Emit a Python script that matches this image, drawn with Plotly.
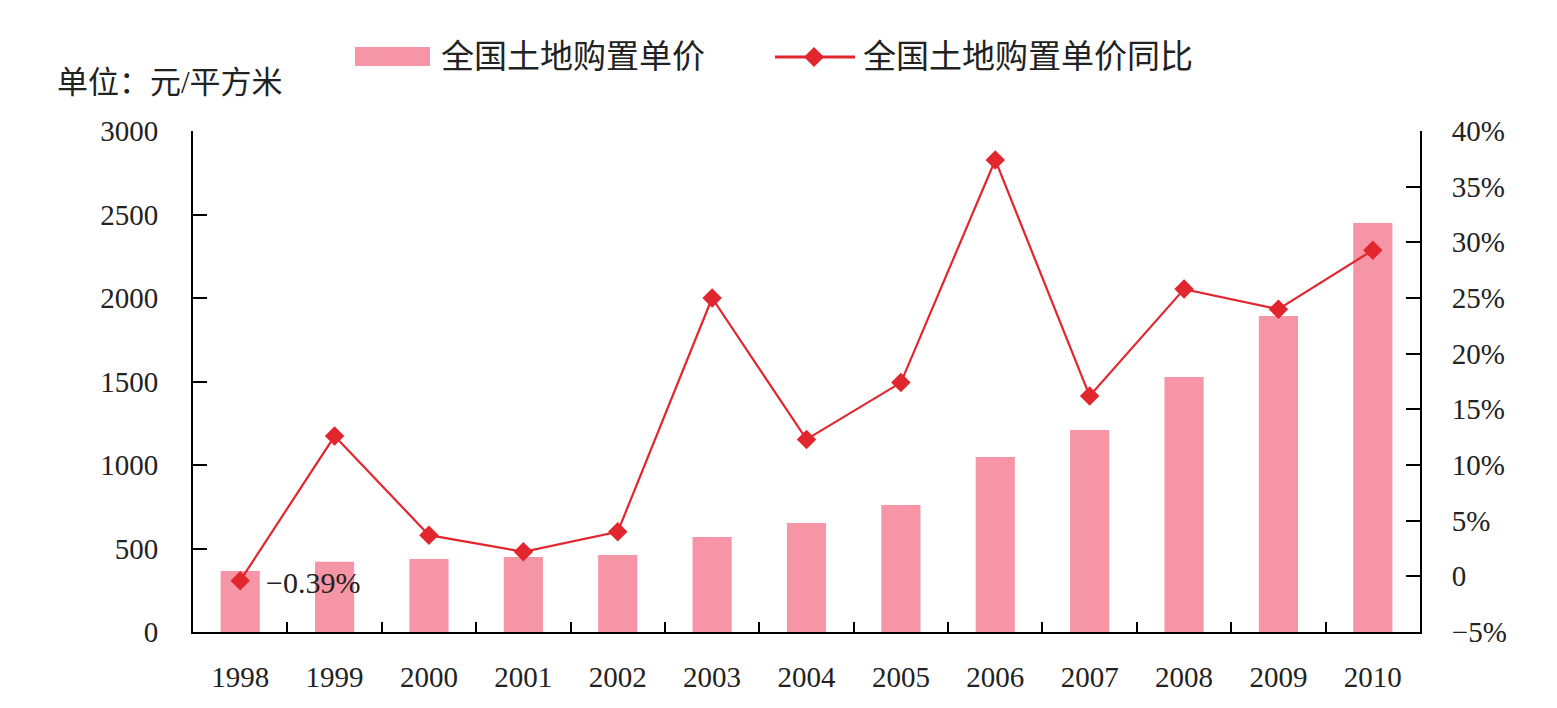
import plotly.graph_objects as go
from plotly.subplots import make_subplots

years = ["1998", "1999", "2000", "2001", "2002", "2003", "2004",
         "2005", "2006", "2007", "2008", "2009", "2010"]
price = [366, 420, 437, 449, 461, 569, 653, 760, 1048, 1210, 1527, 1892, 2449]
yoy = [-0.39, 12.6, 3.7, 2.2, 4.0, 25.0, 12.3, 17.4, 37.4, 16.2, 25.8, 24.0, 29.3]

left_ticks = [0, 500, 1000, 1500, 2000, 2500, 3000]
right_ticks = [-5, 0, 5, 10, 15, 20, 25, 30, 35, 40]
right_text = ["\u22125%", "0", "5%", "10%", "15%", "20%", "25%", "30%", "35%", "40%"]

FONT = "Liberation Serif, Noto Sans CJK SC, serif"
BAR = "#F595A6"
RED = "#E2262E"
TXT = "#222222"

# plot area in pixels
L, R, T, B = 193, 1420, 131, 632
W, H = R - L, B - T


def px(x):
    return (x - L) / W


def py(y):
    return (B - y) / H


fig = make_subplots(specs=[[{"secondary_y": True}]])
fig.add_trace(go.Bar(x=years, y=price, name="全国土地购置单价",
                     marker=dict(color=BAR, line=dict(width=0)),
                     showlegend=False),
              secondary_y=False)
fig.add_trace(go.Scatter(x=years, y=yoy, name="全国土地购置单价同比",
                         mode="lines+markers",
                         line=dict(color=RED, width=2.2),
                         marker=dict(symbol="diamond", size=15, color=RED),
                         showlegend=False),
              secondary_y=True)

# data label for 1998
fig.add_annotation(x=0, y=yoy[0], xref="x", yref="y2", text="\u22120.39%",
                   xanchor="left", yanchor="middle", xshift=24, yshift=-2,
                   showarrow=False, font=dict(family=FONT, size=30, color=TXT))
# unit label
fig.add_annotation(x=px(55), y=py(83), xref="paper", yref="paper",
                   text="单位：元/平方米", xanchor="left", yanchor="middle",
                   showarrow=False, font=dict(family=FONT, size=31, color=TXT))

# legend (drawn manually to match the wide swatch style)
fig.add_shape(type="rect", xref="paper", yref="paper",
              x0=px(355), x1=px(430), y0=py(66), y1=py(47),
              fillcolor=BAR, line=dict(width=0))
fig.add_annotation(x=px(439), y=py(57), xref="paper", yref="paper",
                   text=fig.data[0].name, xanchor="left", yanchor="middle",
                   showarrow=False, font=dict(family=FONT, size=33, color=TXT))
fig.add_shape(type="line", xref="paper", yref="paper",
              x0=px(775), x1=px(855), y0=py(57), y1=py(57),
              line=dict(color=RED, width=3))
cx, cy, d = 814, 57, 10
path = "M {} {} L {} {} L {} {} L {} {} Z".format(
    px(cx - d), py(cy), px(cx), py(cy - d), px(cx + d), py(cy), px(cx), py(cy + d))
fig.add_shape(type="path", xref="paper", yref="paper", path=path,
              fillcolor=RED, line=dict(width=0))
fig.add_annotation(x=px(861), y=py(57), xref="paper", yref="paper",
                   text=fig.data[1].name, xanchor="left", yanchor="middle",
                   showarrow=False, font=dict(family=FONT, size=33, color=TXT))

fig.update_layout(
    width=1557, height=708,
    margin=dict(l=L, r=1557 - R, t=T, b=708 - B),
    paper_bgcolor="white", plot_bgcolor="white",
    bargap=0.585,
    font=dict(family=FONT, size=30, color=TXT),
    showlegend=False,
)
fig.update_xaxes(type="category", range=[-0.5, 12.5], showline=True,
                 linecolor="black", linewidth=2,
                 ticks="inside", tickson="boundaries", ticklen=10, tickwidth=2,
                 tickcolor="black", showgrid=False, ticklabelstandoff=18,
                 automargin=False, tickangle=0, domain=[0, 1],
                 tickfont=dict(family=FONT, size=29, color=TXT))
fig.update_yaxes(range=[0, 3000], tickvals=left_ticks, showline=True,
                 linecolor="black", linewidth=2, ticks="inside", ticklen=14,
                 tickwidth=2, tickcolor="black", showgrid=False, zeroline=False,
                 ticklabelstandoff=27, automargin=False,
                 tickfont=dict(family=FONT, size=29, color=TXT),
                 secondary_y=False)
fig.update_yaxes(range=[-5, 40], tickvals=right_ticks, ticktext=right_text,
                 showline=True, linecolor="black", linewidth=2, ticks="inside",
                 ticklen=14, tickwidth=2, tickcolor="black", showgrid=False,
                 zeroline=False, ticklabelstandoff=24, automargin=False,
                 tickfont=dict(family=FONT, size=29, color=TXT),
                 secondary_y=True)

fig.write_html("out.html")
